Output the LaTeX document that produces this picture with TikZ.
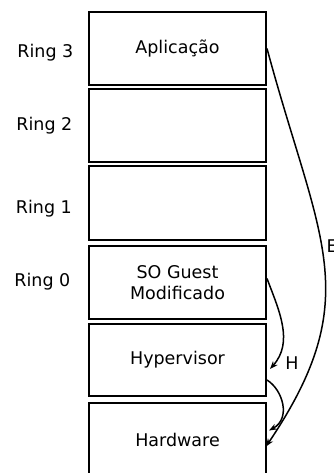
\documentclass[tikz,border=0pt]{standalone}
\usepackage{fontspec}
\setmainfont{DejaVu Sans}
\usetikzlibrary{arrows.meta,calc}

\tikzset{
  camada/.style={draw, line width=2pt, minimum width=177pt, minimum height=73pt,
    inner sep=0pt, align=center},
  anel/.style={anchor=east, inner sep=0pt},
  chamada/.style={line width=1.5pt, -{Stealth[length=8pt,width=6pt]}}
}

\begin{document}
\begin{tikzpicture}[x=1pt, y=-1pt, font=\fontsize{17.5}{21}\selectfont]
      \useasboundingbox (0,0) rectangle (334,473);

      % pilha de camadas
      \node(APP)[camada] at (177.5,48.5) {Aplica\c{c}\~ao};
      \node(R2)[camada] at (177.5,125.5) {};
      \node(R1)[camada] at (177.5,203) [minimum height=74pt] {};
      \node(GUEST)[camada] at (177.5,282.5) {SO Guest\\Modificado};
      \node(HYP)[camada] at (177.5,360) [minimum height=72pt] {Hypervisor};
      \node(HW)[camada] at (177.5,439.5) {Hardware};

      % niveis de privilegio
      \node(NR3)[anel] at (73.5,53) {Ring 3};
      \node(NR2)[anel] at (72.5,126) {Ring 2};
      \node(NR1)[anel] at (72,209) {Ring 1};
      \node(NR0)[anel] at (70.5,282) {Ring 0};

      % chamadas
      \draw[chamada] (APP.east) .. controls +(52,193) and +(101,-150) .. ($(HW.east)+(-1,7)$);
      \draw[chamada] ($(GUEST.east)+(0,-4)$) .. controls +(12,32) and +(24,-27) .. ($(HYP.east)+(3,9)$);
      \draw[chamada] ($(HYP.east)+(0,20)$) .. controls +(16,10) and +(22,-12) .. ($(HW.east)+(2,-9)$);

      \node(LH)[inner sep=0pt] at (292,363) {H};
      \node(LE)[anchor=west, inner sep=0pt] at (326.5,246) {E};
\end{tikzpicture}
\end{document}
